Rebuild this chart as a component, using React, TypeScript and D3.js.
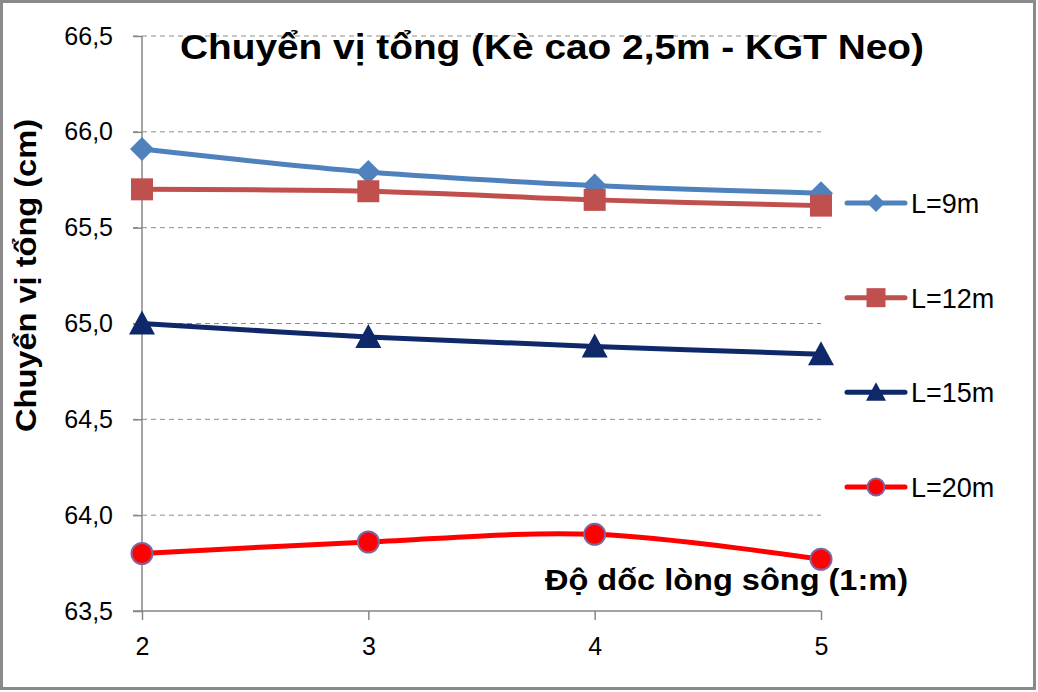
import { useEffect, useRef } from "react";
import * as d3 from "d3";

const W = 1038;
const H = 692;
const M = { top: 36, right: 217, bottom: 81, left: 142 };

const slopes = [2, 3, 4, 5];
const yTicks = [63.5, 64.0, 64.5, 65.0, 65.5, 66.0, 66.5];

const seriesNames = ["L=9m", "L=12m", "L=15m", "L=20m"];
const l9 = [65.91, 65.79, 65.72, 65.68];
const l12 = [65.7, 65.69, 65.645, 65.615];
const l15 = [65.0, 64.93, 64.88, 64.84];
const l20 = [63.8, 63.86, 63.9, 63.77];

const seriesValues = [l9, l12, l15, l20];
const lineColors = ["#4F81BD", "#C0504D", "#0E2869", "#FF0000"];
const markerKinds = ["diamond", "square", "triangle", "circle"];

const title = "Chuyển vị tổng (Kè cao 2,5m - KGT Neo)";
const yTitle = "Chuyển vị tổng (cm)";
const xTitle = "Độ dốc lòng sông (1:m)";

const FONT = "'Liberation Sans', Arial, sans-serif";

function drawMarker(
  g: d3.Selection<SVGGElement, unknown, null, undefined>,
  kind: string,
  cx: number,
  cy: number,
  color: string,
  big: boolean
) {
  if (kind === "diamond") {
    const r = big ? 12 : 9;
    g.append("path")
      .attr("d", `M${cx},${cy - r}L${cx + r},${cy}L${cx},${cy + r}L${cx - r},${cy}Z`)
      .attr("fill", color);
  } else if (kind === "square") {
    const s = big ? 22 : 19;
    g.append("rect")
      .attr("x", cx - s / 2)
      .attr("y", cy - s / 2)
      .attr("width", s)
      .attr("height", s)
      .attr("fill", color);
  } else if (kind === "triangle") {
    const s = big ? 13 : 10;
    g.append("path")
      .attr("d", `M${cx},${cy - s}L${cx + s},${cy + s * 0.85}L${cx - s},${cy + s * 0.85}Z`)
      .attr("fill", color);
  } else {
    g.append("circle")
      .attr("cx", cx)
      .attr("cy", cy)
      .attr("r", big ? 10.5 : 8.5)
      .attr("fill", color)
      .attr("stroke", "#8064A2")
      .attr("stroke-width", 2);
  }
}

export default function App() {
  const svgRef = useRef<SVGSVGElement>(null);

  useEffect(() => {
    if (!svgRef.current) return;
    document.body.style.margin = "0";

    const innerW = W - M.left - M.right;
    const innerH = H - M.top - M.bottom;

    const root = d3.select(svgRef.current);
    root.selectAll("*").remove();

    root.append("rect").attr("width", W).attr("height", H).attr("fill", "#fff");
    root
      .append("rect")
      .attr("x", 1.5)
      .attr("y", 1.5)
      .attr("width", 1033)
      .attr("height", 687)
      .attr("fill", "none")
      .attr("stroke", "#8a8a8a")
      .attr("stroke-width", 3);

    const svg = root.append("g").attr("transform", `translate(${M.left},${M.top})`);

    const x = d3.scaleLinear().domain([2, 5]).range([0, innerW]);
    const y = d3.scaleLinear().domain([63.5, 66.5]).range([innerH, 0]);

    // dashed gridlines
    svg
      .append("g")
      .selectAll("line")
      .data(yTicks.slice(1))
      .join("line")
      .attr("x1", -9)
      .attr("x2", innerW)
      .attr("y1", (d) => y(d))
      .attr("y2", (d) => y(d))
      .attr("stroke", "#8c8c8c")
      .attr("stroke-width", 1)
      .attr("stroke-dasharray", "5 4");

    // axes
    svg
      .append("g")
      .call(d3.axisLeft(y).tickValues(yTicks).tickSize(9).tickFormat((d) => d3.format(".1f")(d as number).replace(".", ",")))
      .call((g) => g.select(".domain").attr("stroke", "#868686").attr("stroke-width", 1.5).attr("d", `M0,${innerH}V0`))
      .call((g) => g.selectAll("line").attr("stroke", "#868686").attr("stroke-width", 1.5))
      .call((g) => g.selectAll("text").attr("fill", "#000").attr("font-size", 25).attr("font-family", FONT).attr("x", -29));

    svg
      .append("g")
      .attr("transform", `translate(0,${innerH})`)
      .call(d3.axisBottom(x).tickValues(slopes).tickSize(9).tickFormat((d) => String(d)))
      .call((g) => g.select(".domain").attr("stroke", "#868686").attr("stroke-width", 1.5).attr("d", `M-9,0H${innerW}`))
      .call((g) => g.selectAll("line").attr("stroke", "#868686").attr("stroke-width", 1.5))
      .call((g) => g.selectAll("text").attr("fill", "#000").attr("font-size", 25).attr("font-family", FONT).attr("y", 26));

    const line = d3
      .line<number>()
      .x((_, i) => x(slopes[i]))
      .y((d) => y(d))
      .curve(d3.curveCatmullRom.alpha(0));

    seriesValues.forEach((vals, si) => {
      svg
        .append("path")
        .datum(vals)
        .attr("d", line)
        .attr("fill", "none")
        .attr("stroke", lineColors[si])
        .attr("stroke-width", 5)
        .attr("stroke-linejoin", "round");
      const mg = svg.append("g");
      vals.forEach((v, i) => drawMarker(mg, markerKinds[si], x(slopes[i]), y(v), lineColors[si], true));
    });

    // legend
    const legend = root.append("g");
    const legendY = d3.scalePoint<string>().domain(seriesNames).range([203, 487]);
    seriesNames.forEach((name, si) => {
      const ly = legendY(name) ?? 0;
      legend
        .append("line")
        .attr("x1", 847)
        .attr("x2", 905)
        .attr("y1", ly)
        .attr("y2", ly)
        .attr("stroke", lineColors[si])
        .attr("stroke-width", 5)
        .attr("stroke-linecap", "round");
      drawMarker(legend, markerKinds[si], 876, ly, lineColors[si], false);
      legend
        .append("text")
        .attr("x", 911)
        .attr("y", ly + 10)
        .attr("font-size", 27)
        .attr("font-family", FONT)
        .attr("fill", "#000")
        .text(name);
    });

    root
      .append("text")
      .attr("x", 552)
      .attr("y", 59)
      .attr("text-anchor", "middle")
      .attr("font-size", 35)
      .attr("font-weight", "bold")
      .attr("font-family", FONT)
      .attr("textLength", 744)
      .attr("lengthAdjust", "spacingAndGlyphs")
      .text(title);

    root
      .append("text")
      .attr("transform", "translate(36,275.5) rotate(-90)")
      .attr("text-anchor", "middle")
      .attr("font-size", 30)
      .attr("font-weight", "bold")
      .attr("font-family", FONT)
      .attr("textLength", 313)
      .attr("lengthAdjust", "spacingAndGlyphs")
      .text(yTitle);

    root
      .append("text")
      .attr("x", 726.5)
      .attr("y", 590)
      .attr("text-anchor", "middle")
      .attr("font-size", 30)
      .attr("font-weight", "bold")
      .attr("font-family", FONT)
      .attr("textLength", 363)
      .attr("lengthAdjust", "spacingAndGlyphs")
      .text(xTitle);
  }, []);

  return (
    <div style={{ position: "absolute", left: 0, top: 0 }}>
      <svg ref={svgRef} width={W} height={H} viewBox={`0 0 ${W} ${H}`} style={{ display: "block" }} />
    </div>
  );
}
